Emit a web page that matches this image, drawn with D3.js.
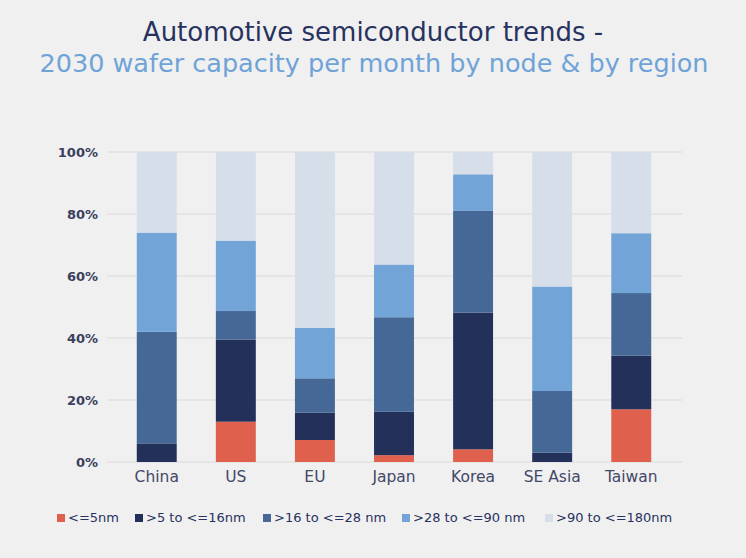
<!DOCTYPE html>
<html>
<head>
<meta charset="utf-8">
<script src="https://cdn.jsdelivr.net/npm/d3@7"></script>
<style>
  body { margin: 0; background: #f0f0f0; }
  svg { display: block; font-family: "DejaVu Sans", sans-serif; }
</style>
</head>
<body>
<div id="chart"></div>
<script>
// data (share of wafer capacity, %)
var regions = ["China", "US", "EU", "Japan", "Korea", "SE Asia", "Taiwan"]
var nodes = ["<=5nm", ">5 to <=16nm", ">16 to <=28 nm", ">28 to <=90 nm", ">90 to <=180nm"]
var le5 =       [0,    13,   7.1,  2.2,  4.1,  0,    17]
var n5to16 =    [6,    26.5, 8.8,  14,   44.1, 3,    17.3]
var n16to28 =   [36,   9.2,  11.1, 30.5, 32.8, 19.9, 20.2]
var n28to90 =   [32,   22.7, 16.3, 17,   11.8, 33.7, 19.3]
var n90to180 =  [26,   28.6, 56.7, 36.3, 7.2,  43.4, 26.2]
var yTicks = [0, 20, 40, 60, 80, 100]
var colors = ["#e0604e", "#22305a", "#456897", "#72a4d7", "#d6deea"]

var W = 746, H = 558
var svg = d3.select("#chart").append("svg")
    .attr("width", W)
    .attr("height", H)

svg.append("rect")
    .attr("width", W)
    .attr("height", H)
    .attr("fill", "#f0f0f0")

// title
svg.append("text")
    .text("Automotive semiconductor trends -")
    .attr("x", W/2)
    .attr("y", 41)
    .attr("text-anchor", "middle")
    .attr("fill", "#28325e")
    .style("font-size", "26px")
svg.append("text")
    .text("2030 wafer capacity per month by node & by region")
    .attr("x", W/2 + 1)
    .attr("y", 72)
    .attr("text-anchor", "middle")
    .attr("fill", "#6fa3d8")
    .style("font-size", "25.5px")

// build rows for the stack
var series_values = [le5, n5to16, n16to28, n28to90, n90to180]
var rows = regions.map(function(r, i){
    var row = {region: r}
    nodes.forEach(function(n, j){ row[n] = series_values[j][i] })
    return row
})
var stacked = d3.stack().keys(nodes)(rows)

var x = d3.scaleBand()
    .domain(regions)
    .range([117, 671])
    .paddingInner(0.495)
    .paddingOuter(0.25)
var y = d3.scaleLinear()
    .domain([0, 100])
    .range([462, 152])

// grid
svg.append("g").selectAll("line")
    .data(yTicks).enter()
    .append("line")
    .attr("x1", 107)
    .attr("x2", 682)
    .attr("y1", function(d){ return y(d) })
    .attr("y2", function(d){ return y(d) })
    .attr("stroke", "#e2e2e2")
    .attr("stroke-width", 1.5)

// y axis
var yAxis = svg.append("g")
    .attr("transform", "translate(98,0)")
    .call(d3.axisLeft(y).tickValues(yTicks).tickSize(0).tickPadding(0)
        .tickFormat(function(d){ return d + "%" }))
yAxis.select(".domain").remove()
yAxis.selectAll("text")
    .attr("fill", "#3a3f5e")
    .style("font-size", "13px")
    .style("font-weight", "bold")
    .style("font-family", "DejaVu Sans, sans-serif")

// bars
svg.append("g").selectAll("g")
    .data(stacked).enter()
    .append("g")
    .attr("fill", function(d, i){ return colors[i] })
    .selectAll("rect")
    .data(function(d){ return d }).enter()
    .append("rect")
    .attr("x", function(d){ return x(d.data.region) })
    .attr("width", x.bandwidth())
    .attr("y", function(d){ return y(d[1]) })
    .attr("height", function(d){ return y(d[0]) - y(d[1]) })

// x axis
var xAxis = svg.append("g")
    .attr("transform", "translate(0,482)")
    .call(d3.axisBottom(x).tickSize(0).tickPadding(0))
xAxis.select(".domain").remove()
xAxis.selectAll("text")
    .attr("y", 0)
    .attr("dy", 0)
    .attr("fill", "#424868")
    .style("font-size", "15.5px")
    .style("font-family", "DejaVu Sans, sans-serif")

// legend
var legend_x = [57, 135, 263, 402, 545]
var legend = svg.append("g").selectAll("g")
    .data(nodes).enter()
    .append("g")
    .attr("transform", function(d, i){ return "translate(" + legend_x[i] + ",522)" })
legend.append("rect")
    .attr("x", 0)
    .attr("y", -8)
    .attr("width", 8)
    .attr("height", 8)
    .attr("fill", function(d, i){ return colors[i] })
legend.append("text")
    .text(function(d){ return d })
    .attr("x", 11)
    .attr("y", 0)
    .attr("fill", "#28325e")
    .style("font-size", "13px")
</script>
</body>
</html>
